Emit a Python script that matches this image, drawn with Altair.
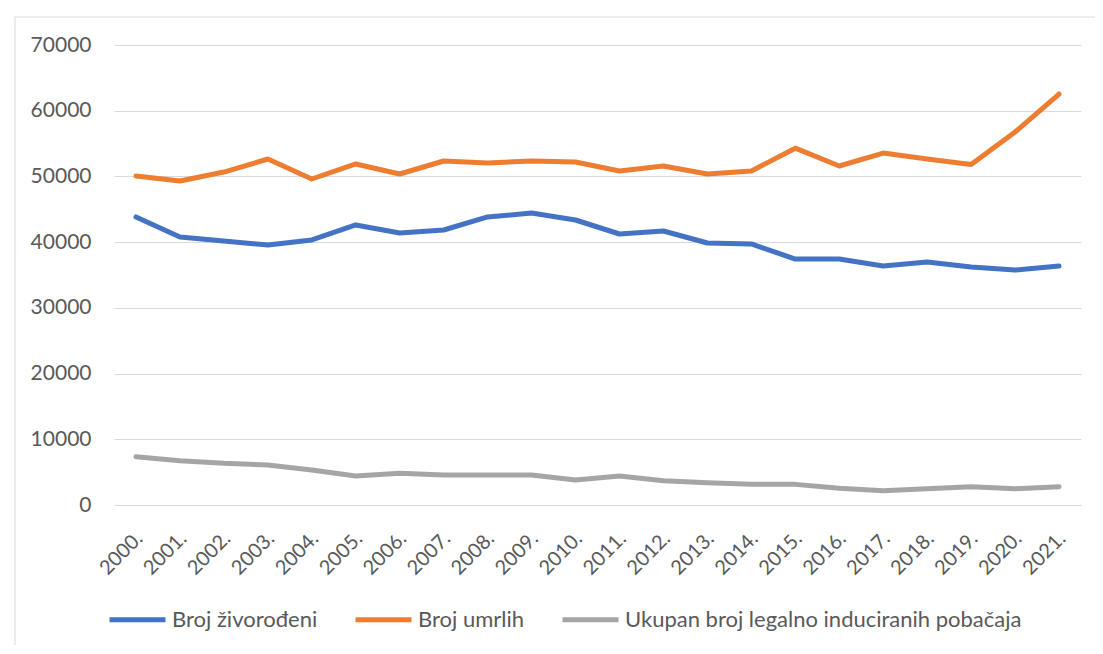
import altair as alt
import pandas as pd

years = [f"{y}." for y in range(2000, 2022)]
zivorodeni = [43830, 40780, 40170, 39560, 40330, 42610, 41390, 41850, 43830, 44430, 43370,
              41240, 41700, 39870, 39720, 37430, 37430, 36370, 36980, 36220, 35760, 36370]
umrlih = [50070, 49300, 50670, 52650, 49610, 51900, 50370, 52350, 52040, 52350, 52190,
          50830, 51590, 50370, 50830, 54300, 51590, 53550, 52650, 51800, 56760, 62540]
pobacaji = [7350, 6750, 6340, 6090, 5330, 4410, 4820, 4565, 4565, 4565, 3800,
            4410, 3700, 3400, 3140, 3140, 2540, 2180, 2480, 2790, 2480, 2790]
series_names = ["Broj živorođeni", "Broj umrlih", "Ukupan broj legalno induciranih pobačaja"]
series_colors = ["#4472C4", "#ED7D31", "#A5A5A5"]
y_ticks = [0, 10000, 20000, 30000, 40000, 50000, 60000, 70000]

df = pd.DataFrame({"Godina": years,
                   series_names[0]: zivorodeni,
                   series_names[1]: umrlih,
                   series_names[2]: pobacaji})
long = df.melt("Godina", var_name="Serija", value_name="Broj")
long["order"] = long["Serija"].map({n: i for i, n in enumerate(series_names)})

FONT = "Lato"
W, H = 967, 460

lines = alt.Chart(long).mark_line(strokeWidth=5, strokeCap="round", strokeJoin="round").encode(
    x=alt.X("Godina:O", sort=years, title=None,
            axis=alt.Axis(labelAngle=-45, labelFontSize=20, labelColor="#595959", labelFont=FONT,
                          domain=False, ticks=False, grid=False, labelPadding=23,
                          labelOffset=-4)),
    y=alt.Y("Broj:Q", title=None, scale=alt.Scale(domain=[0, 70000], nice=False),
            axis=alt.Axis(values=y_ticks, format="d", labelFontSize=21, labelColor="#595959",
                          labelFont=FONT, domain=False, ticks=False, gridColor="#D9D9D9",
                          gridWidth=1, labelPadding=23)),
    color=alt.Color("Serija:N", sort=series_names,
                    scale=alt.Scale(domain=series_names, range=series_colors),
                    legend=alt.Legend(title=None, orient="none", direction="horizontal",
                                      legendX=-7, legendY=544, symbolType="stroke",
                                      symbolSize=3136, symbolStrokeWidth=5, labelFontSize=22,
                                      labelFont=FONT, labelColor="#595959", labelOffset=4,
                                      labelLimit=0, columnPadding=27, padding=0)),
    order="order:Q",
)

# Spreadsheet-like frame lines around the chart object (decoration)
frame_top = alt.Chart().mark_rule(color="#D9D9D9", strokeWidth=1).encode(
    x=alt.value(-99), x2=alt.value(W + 20), y=alt.value(-28))
frame_left = alt.Chart().mark_rule(color="#D9D9D9", strokeWidth=1).encode(
    x=alt.value(-99), y=alt.value(-28), y2=alt.value(H + 150))

chart = alt.layer(frame_top, frame_left, lines).properties(
    width=W, height=H,
    autosize=alt.AutoSizeParams(type="none"),
    padding={"left": 106, "top": 37, "right": 14, "bottom": 140},
).configure(background="white").configure_view(stroke=None)

chart.save("out.html", embed_options={"renderer": "svg", "actions": False})
